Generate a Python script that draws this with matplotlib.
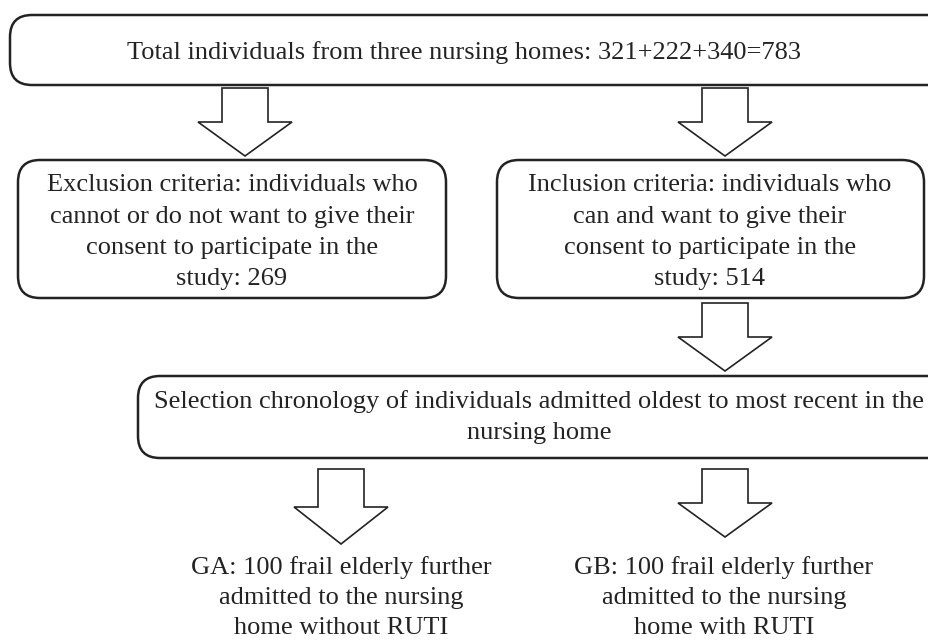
import matplotlib
matplotlib.use("Agg")
from matplotlib import pyplot as plt
from matplotlib.patches import FancyBboxPatch, Polygon

# Textes du diagramme
haut = ["Total individuals from three nursing homes: 321+222+340=783"]
exclusion = [
    "Exclusion criteria: individuals who",
    "cannot or do not want to give their",
    "consent to participate in the",
    "study: 269",
]
inclusion = [
    "Inclusion criteria: individuals who",
    "can and want to give their",
    "consent to participate in the",
    "study: 514",
]
selection = [
    "Selection chronology of individuals admitted oldest to most recent in the",
    "nursing home",
]
groupe_a = ["GA: 100 frail elderly further", "admitted to the nursing", "home without RUTI"]
groupe_b = ["GB: 100 frail elderly further", "admitted to the nursing", "home with RUTI"]

COULEUR = "#232323"
TAILLE = 19

fig = plt.figure(figsize=(9.29, 6.40), dpi=100)
ax = fig.add_axes([0, 0, 1, 1])
ax.set_xlim(0, 929)
ax.set_ylim(640, 0)
ax.axis("off")


# Boite arrondie (coordonnees en pixels)
def boite(x0, y0, x1, y1):
    ax.add_patch(
        FancyBboxPatch(
            (x0, y0), x1 - x0, y1 - y0,
            boxstyle="round,pad=0,rounding_size=22",
            fc="white", ec=COULEUR, lw=1.8, zorder=2,
        )
    )


# Fleche epaisse vers le bas
def fleche(xc, haut_y, epaule, pointe):
    pts = [
        (xc - 23, haut_y), (xc + 23, haut_y), (xc + 23, epaule),
        (xc + 47, epaule), (xc, pointe), (xc - 47, epaule), (xc - 23, epaule),
    ]
    ax.add_patch(Polygon(pts, closed=True, fc="white", ec=COULEUR, lw=1.2, zorder=3))


# Texte ligne par ligne
def texte(lignes, xc, y_premiere, pas=31.5):
    for i, ligne in enumerate(lignes):
        ax.text(xc, y_premiere + i * pas, ligne, ha="center", va="baseline",
                fontsize=TAILLE, family="Liberation Serif", color=COULEUR, zorder=4)


boite(10, 15, 950, 85)
boite(18, 160, 446, 298)
boite(497, 160, 924, 298)
boite(138, 376, 950, 458)

fleche(245, 88, 122, 156)
fleche(725, 88, 122, 156)
fleche(725, 303, 337, 371)
fleche(341, 469, 507, 544)
fleche(725, 469, 503, 537)

texte(haut, 464, 59)
texte(exclusion, 232, 191)
texte(inclusion, 710, 191)
texte(selection, 539, 408)
texte(groupe_a, 341, 574, pas=30)
texte(groupe_b, 724, 574, pas=30)

fig.savefig("out.png", dpi=100)
